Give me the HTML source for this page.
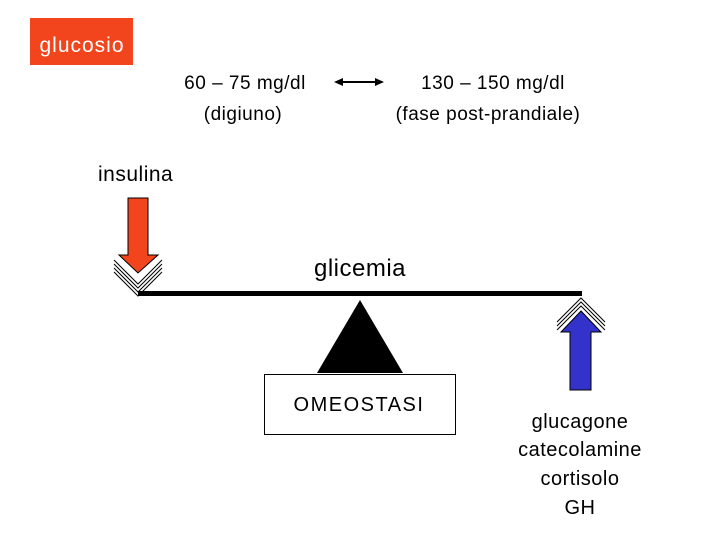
<!DOCTYPE html>
<html><head><style>
body{margin:0;width:720px;height:540px;background:#fff;overflow:hidden;}
svg text{font-family:"Liberation Sans",sans-serif;letter-spacing:0.5px;}
</style></head><body>
<svg width="720" height="540" viewBox="0 0 720 540">
<rect x="30" y="18" width="103" height="47" fill="#f2451d"/>
<text x="82" y="52" font-size="21" fill="#fff" text-anchor="middle" style="letter-spacing:1px">glucosio</text>
<text x="245" y="89" font-size="19" text-anchor="middle">60 – 75 mg/dl</text>
<text x="243" y="120" font-size="19" text-anchor="middle">(digiuno)</text>
<text x="493" y="89" font-size="19" text-anchor="middle">130 – 150 mg/dl</text>
<text x="488" y="120" font-size="19" text-anchor="middle">(fase post-prandiale)</text>
<line x1="340" y1="82" x2="378" y2="82" stroke="#000" stroke-width="2"/>
<polygon points="334,82 343,78 343,86" fill="#000"/>
<polygon points="384,82 375,78 375,86" fill="#000"/>
<text x="98" y="181" font-size="21">insulina</text>
<text x="360" y="276" font-size="24" text-anchor="middle">glicemia</text>
<g fill="none" stroke="#000" stroke-width="1">
<polyline points="114,260 138,284 162,260"/>
<polyline points="114,264 138,288 162,264"/>
<polyline points="114,268 138,292 162,268"/>
<polyline points="114,272 138,296 162,272"/>
<polyline points="557,322 581,298 605,322"/>
<polyline points="557,326 581,302 605,326"/>
<polyline points="557,330 581,306 605,330"/>
</g>
<polygon points="128,198 148,198 148,255 158,255 138,273 119,255 128,255" fill="#f2451d" stroke="#000" stroke-width="1"/>
<polygon points="581,311 601,332 591,332 591,390 570,390 570,332 561,332" fill="#3333cc" stroke="#000" stroke-width="1"/>
<rect x="138" y="291" width="444" height="5" fill="#000"/>
<polygon points="360,300 403,373 317,373" fill="#000"/>
<rect x="264.5" y="374.5" width="191" height="60" fill="#fff" stroke="#000" stroke-width="1"/>
<text x="359" y="411" font-size="20" text-anchor="middle" style="letter-spacing:1.5px">OMEOSTASI</text>
<g font-size="20" text-anchor="middle">
<text x="580" y="428">glucagone</text>
<text x="580" y="456">catecolamine</text>
<text x="580" y="485">cortisolo</text>
<text x="580" y="514">GH</text>
</g>
</svg>
</body></html>
